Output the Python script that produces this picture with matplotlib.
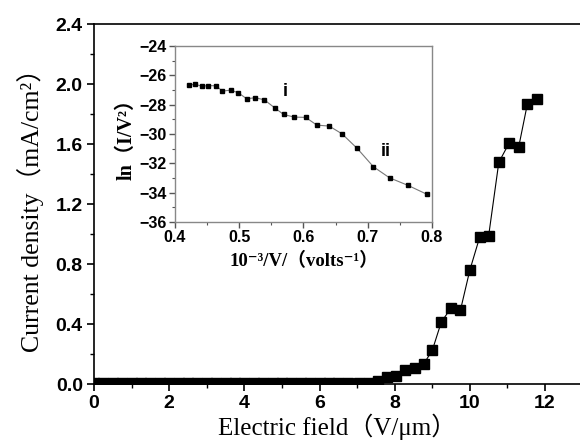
import numpy as np
import matplotlib.pyplot as plt
from matplotlib.ticker import MultipleLocator

# main curve: current density vs electric field
field = [0.0, 0.25, 0.5, 0.75, 1.0, 1.25, 1.5, 1.75, 2.0, 2.25, 2.5, 2.75,
         3.0, 3.25, 3.5, 3.75, 4.0, 4.25, 4.5, 4.75, 5.0, 5.25, 5.5, 5.75,
         6.0, 6.25, 6.5, 6.75, 7.05, 7.31, 7.56, 7.8, 8.04, 8.28, 8.53, 8.77,
         9.0, 9.24, 9.5, 9.75, 10.0, 10.26, 10.5, 10.77, 11.05, 11.3, 11.53, 11.79]
current = [0.004, 0.004, 0.004, 0.004, 0.004, 0.004, 0.004, 0.004, 0.004, 0.004,
           0.004, 0.004, 0.004, 0.004, 0.004, 0.004, 0.004, 0.004, 0.004, 0.004,
           0.004, 0.004, 0.004, 0.004, 0.004, 0.004, 0.004, 0.004, 0.005, 0.009,
           0.022, 0.047, 0.056, 0.093, 0.109, 0.133, 0.224, 0.413, 0.507, 0.493,
           0.76, 0.978, 0.989, 1.478, 1.609, 1.582, 1.867, 1.9]

# inset: F-N plot
inv_v = [0.422, 0.431, 0.4415, 0.452, 0.464, 0.4737, 0.4866, 0.4985, 0.5116,
         0.525, 0.539, 0.555, 0.569, 0.5857, 0.6034, 0.621, 0.640, 0.660,
         0.6838, 0.709, 0.734, 0.763, 0.792]
ln_iv2 = [-26.66, -26.6, -26.73, -26.7, -26.7, -27.07, -27.0, -27.18, -27.59,
          -27.52, -27.66, -28.2, -28.66, -28.84, -28.86, -29.39, -29.45, -29.98,
          -30.98, -32.23, -32.98, -33.5, -34.1]

sans = ['Liberation Sans', 'DejaVu Sans']
serif = ['Liberation Serif', 'DejaVu Serif', 'Noto Sans CJK SC']

fig = plt.figure(figsize=(5.8, 4.46), dpi=100)
ax = fig.add_axes([0.162, 0.139, 0.838, 0.807])
ax.plot(field, current, '-', color='black', lw=0.8, marker='s', ms=6.5,
        mfc='black', mec='black')
ax.set_xlim(0, 12.93)
ax.set_ylim(0, 2.4)
ax.xaxis.set_major_locator(MultipleLocator(2))
ax.xaxis.set_minor_locator(MultipleLocator(1))
ax.yaxis.set_major_locator(MultipleLocator(0.4))
ax.yaxis.set_minor_locator(MultipleLocator(0.2))
ax.yaxis.set_major_formatter(plt.FormatStrFormatter('%.1f'))
ax.spines['right'].set_visible(False)
for s in ax.spines.values():
    s.set_linewidth(1.2)
ax.tick_params(which='major', length=5, width=1.2, direction='out', pad=3)
ax.tick_params(which='minor', length=3, width=1.0, direction='out')
for lab in ax.get_xticklabels() + ax.get_yticklabels():
    lab.set_family(sans)
    lab.set_fontweight('bold')
    lab.set_fontsize(14)
ax.set_xlabel('Electric field（V/μm）', family=serif, fontsize=18, labelpad=1)
ax.set_ylabel('Current density（mA/cm²）', family=serif, fontsize=18.5, labelpad=8)

# inset
ins = fig.add_axes([0.3017, 0.502, 0.443, 0.3946])
ins.plot(inv_v, ln_iv2, '-', color='#777777', lw=0.8, marker='s', ms=3.5,
         mfc='black', mec='black')
ins.set_xlim(0.4, 0.8)
ins.set_ylim(-36, -24)
ins.xaxis.set_major_locator(MultipleLocator(0.1))
ins.xaxis.set_minor_locator(MultipleLocator(0.05))
ins.yaxis.set_major_locator(MultipleLocator(2))
ins.yaxis.set_minor_locator(MultipleLocator(1))
for s in ins.spines.values():
    s.set_color('#888888')
    s.set_linewidth(1.0)
ins.tick_params(which='major', length=4, width=1.0, direction='out',
                color='#555555', pad=2)
ins.tick_params(which='minor', length=2, width=0.8, direction='out', color='#555555')
for lab in ins.get_xticklabels() + ins.get_yticklabels():
    lab.set_family(sans)
    lab.set_fontweight('bold')
    lab.set_fontsize(11.5)
ins.text(0.572, -27.4, 'i', family=sans, fontsize=13, fontweight='bold', ha='center')
ins.text(0.728, -31.5, 'ii', family=sans, fontsize=13, fontweight='bold', ha='center')
ins.set_xlabel('10⁻³/V/（volts⁻¹）', family=serif, fontsize=13.5,
               fontweight='bold', labelpad=5)
ins.set_ylabel('ln（I/V²）', family=serif, fontsize=14.5,
               fontweight='bold', labelpad=2)

fig.savefig('out.png', dpi=100)
